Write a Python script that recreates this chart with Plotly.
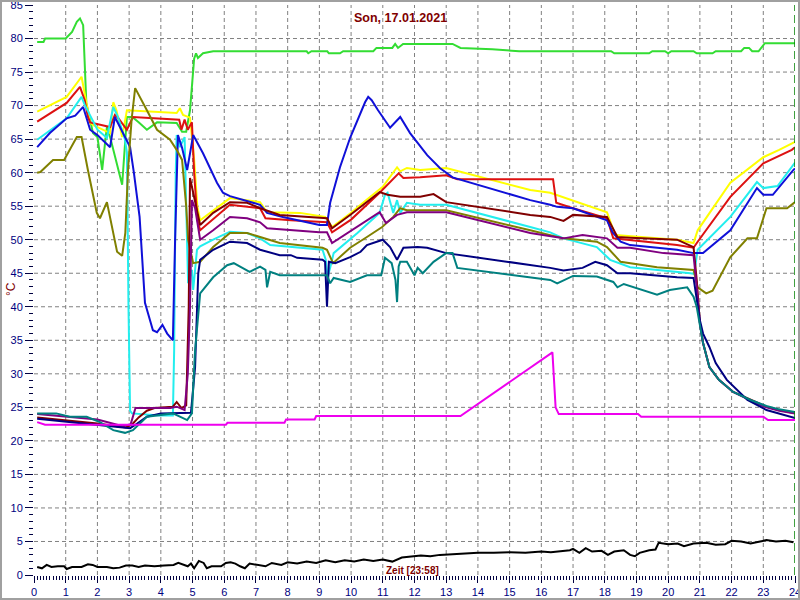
import plotly.graph_objects as go

# ---------------- data (hours, °C) ----------------
green_h = [0.1, 0.3, 0.35, 1.0, 1.2, 1.35, 1.45, 1.55, 1.65, 1.86, 2.0, 2.15, 2.24, 2.3, 2.4, 2.78, 2.93, 3.1, 3.3, 3.56, 3.88, 4.29, 4.5, 4.67, 4.8, 4.92, 5.0, 5.05, 5.11, 5.17, 5.33, 5.65,
           8.6, 8.65, 8.75, 9.25, 9.3, 9.65, 9.75, 10.7, 10.8, 11.3, 11.39, 11.48, 11.64, 13.2, 13.45, 14.45, 15.3, 18.2, 18.3, 19.4, 19.5, 19.9, 20.0, 20.1, 20.8, 20.9,
           21.4, 21.5, 22.3, 22.4, 22.55, 22.65, 22.85, 23.05, 24.0]
green_t = [79.5, 79.5, 80.0, 80.0, 81.0, 82.5, 83.0, 82.0, 70.4, 65.9, 65.3, 60.4, 64.4, 66.8, 65.3, 58.2, 68.3, 68.3, 67.5, 66.4, 67.5, 67.4, 67.4, 66.1, 66.1, 69.3, 74.0, 77.0, 77.8, 77.1, 77.8, 78.1,
           78.1, 77.8, 78.1, 78.1, 77.8, 77.8, 78.1, 78.1, 78.6, 78.6, 79.2, 78.6, 79.2, 79.2, 78.6, 78.4, 78.1, 78.1, 77.8, 77.8, 78.1, 78.1, 77.8, 78.1, 78.1, 77.8,
           77.8, 78.1, 78.1, 78.6, 78.6, 78.1, 78.1, 79.3, 79.3]

yellow_h = [0.1, 1.03, 1.5, 1.6, 1.77, 1.9, 2.4, 2.5, 2.6, 2.78, 2.93, 4.5, 4.6, 4.7, 4.92, 5.05, 5.15, 5.24, 5.65, 6.18, 7.13, 7.35, 8.39, 9.18, 9.4, 10.0, 10.5, 11.0, 11.45, 11.55, 11.76, 12.18, 13.0,
            15.65, 16.28, 18.07, 18.33, 20.28, 20.8, 20.93, 21.96, 23.0, 23.5, 24.0]
yellow_t = [69.1, 71.3, 74.3, 71.8, 67.4, 67.0, 65.9, 70.5, 69.3, 65.3, 69.3, 68.9, 69.6, 68.6, 68.2, 62.0, 55.0, 52.9, 54.4, 56.2, 55.6, 54.1, 54.0, 53.4, 51.9, 54.0, 56.0, 57.9, 60.8, 60.2, 60.7, 60.4, 60.7,
            57.4, 57.0, 54.1, 50.7, 50.0, 49.5, 51.4, 58.5, 62.3, 63.4, 64.6]

red_h = [0.1, 1.03, 1.45, 1.6, 1.7, 1.77, 2.4, 2.55, 2.65, 2.93, 3.12, 4.5, 4.58, 4.65, 4.75, 4.85, 4.98, 5.05, 5.15, 5.24, 5.65, 6.18, 7.13, 7.3, 8.1, 9.24, 9.4, 10.0, 10.9, 11.5, 11.65, 12.18, 13.0, 13.35,
         16.37, 16.47, 17.0, 18.07, 18.27, 20.28, 20.8, 20.93, 21.96, 23.0, 23.9, 24.0]
red_t = [67.6, 70.4, 72.8, 70.8, 68.3, 67.5, 66.8, 68.6, 68.2, 66.4, 68.3, 67.9, 67.9, 66.4, 67.9, 66.4, 67.5, 60.0, 53.0, 51.4, 53.0, 55.2, 54.7, 53.2, 52.9, 52.6, 51.1, 53.0, 57.0, 59.9, 59.2, 59.3, 59.6, 59.0,
         59.0, 55.5, 54.7, 53.2, 50.2, 49.2, 48.8, 49.7, 56.4, 61.4, 63.4, 63.8]

cyan_h = [0.1, 1.03, 1.5, 1.6, 2.0, 2.3, 2.5, 2.65, 2.87, 2.93, 2.98, 3.03, 3.09, 3.97, 4.38, 4.42, 4.47, 4.5, 4.6, 4.75, 4.8, 4.86, 4.98, 5.02, 5.14, 5.24, 5.65, 6.18, 6.72, 7.13, 7.45,
          9.1, 9.2, 9.26, 9.35, 9.45, 10.2, 10.9, 11.07, 11.15, 11.33, 11.45, 11.55, 11.76, 12.18, 13.0, 15.65, 16.28, 16.7, 17.75, 18.17, 18.8, 20.7, 20.82,
          20.93, 21.96, 22.8, 23.0, 23.45, 23.95, 24.0]
cyan_t = [64.9, 68.1, 71.3, 70.1, 66.4, 65.2, 69.8, 68.3, 64.9, 63.0, 40.0, 24.5, 24.1, 23.8, 23.8, 33.5, 60.0, 65.6, 63.8, 65.3, 55.0, 43.5, 45.5, 42.5, 48.5, 49.0, 50.0, 51.2, 51.0, 50.2, 49.2,
          48.5, 47.0, 44.4, 46.0, 48.0, 51.0, 54.0, 56.7, 57.0, 54.0, 55.9, 54.0, 55.5, 55.2, 55.2, 51.9, 51.1, 50.2, 48.9, 47.0, 45.9, 45.0, 44.9,
          48.5, 53.4, 58.6, 57.7, 58.0, 61.1, 61.5]

blue_h = [0.1, 0.5, 1.03, 1.3, 1.55, 1.77, 2.0, 2.4, 2.55, 2.65, 3.03, 3.15, 3.25, 3.33, 3.5, 3.75, 3.88, 4.05, 4.2, 4.38, 4.45, 4.54, 4.67, 4.83, 5.02, 5.33, 5.77, 5.96, 6.18, 7.13, 7.35, 7.85,
          9.0, 9.24, 9.34, 9.65, 9.97, 10.44, 10.54, 10.65, 10.85, 11.23, 11.55, 11.86, 12.4, 12.8, 13.2, 15.65, 16.28, 16.5, 17.0, 18.07, 18.25, 18.5, 18.8,
          20.28, 20.8, 21.1, 21.96, 22.8, 23.0, 23.3, 23.95, 24.0]
blue_t = [63.8, 65.9, 68.1, 68.5, 69.8, 66.4, 65.6, 63.8, 68.3, 67.4, 63.8, 60.0, 55.9, 53.4, 40.6, 36.5, 36.2, 37.3, 36.0, 35.0, 50.0, 65.6, 63.7, 60.4, 65.6, 62.9, 58.5, 57.0, 56.5, 55.2, 54.0, 53.4,
          52.2, 52.2, 55.5, 60.8, 65.2, 70.5, 71.3, 70.8, 69.3, 66.7, 68.3, 65.9, 62.6, 60.7, 59.3, 55.9, 55.2, 54.9, 54.7, 52.9, 51.1, 49.7, 49.2,
          48.5, 48.0, 48.0, 51.4, 57.7, 56.7, 56.7, 60.4, 60.6]

olive_h = [0.1, 0.2, 0.6, 0.95, 1.35, 1.5, 1.7, 1.98, 2.08, 2.3, 2.62, 2.78, 2.88, 2.97, 3.08, 3.19, 3.56, 3.88, 4.29, 4.5, 4.67, 4.8, 4.86, 5.02, 5.24, 5.65, 6.18, 6.72, 7.13, 7.75,
           9.1, 9.24, 9.43, 9.97, 10.5, 10.98, 11.33, 11.55, 11.76, 13.0, 15.65, 16.7, 17.75, 18.07, 18.5, 18.8, 19.65, 20.8, 20.93, 21.2, 21.4, 21.96, 22.5, 22.8,
           23.1, 23.75, 24.0]
olive_t = [60.0, 60.1, 61.9, 61.9, 65.3, 65.3, 60.4, 54.0, 53.2, 55.6, 48.2, 47.6, 51.0, 60.8, 68.0, 72.6, 69.3, 66.4, 64.9, 63.4, 61.9, 55.0, 50.0, 46.5, 46.7, 48.9, 51.0, 51.0, 50.4, 49.5,
           48.8, 48.5, 46.5, 48.8, 50.4, 51.9, 53.4, 54.7, 54.4, 54.4, 51.4, 50.2, 49.7, 48.9, 46.7, 46.5, 45.9, 45.5, 42.9, 42.0, 42.4, 47.4, 50.2, 50.2,
           54.7, 54.7, 55.6]

maroon_h = [0.1, 1.0, 2.0, 2.9, 3.1, 3.3, 3.56, 3.8, 4.38, 4.5, 4.65, 4.8, 4.88, 4.92, 5.02, 5.08, 5.24, 5.65, 6.18, 6.72, 7.13, 7.75, 9.24, 9.4, 10.0, 10.9, 11.15, 11.55, 12.18, 12.6, 13.0,
            15.65, 16.28, 16.7, 17.0, 18.07, 18.4, 18.8, 20.28, 20.8, 20.9, 21.0, 21.1, 21.3, 21.6, 22.05, 22.6, 23.1, 23.5, 24.0]
maroon_t = [23.5, 23.1, 22.6, 22.0, 22.5, 23.5, 24.5, 24.9, 25.1, 25.8, 24.9, 25.3, 40.0, 59.2, 57.0, 55.9, 52.2, 54.0, 55.6, 55.5, 54.7, 53.7, 53.2, 51.7, 53.8, 57.1, 56.7, 56.4, 56.4, 56.8, 55.6,
            53.7, 53.4, 52.8, 53.7, 53.4, 50.4, 50.3, 50.0, 48.9, 44.0, 37.6, 34.6, 31.0, 29.1, 27.3, 26.1, 25.1, 24.6, 24.1]

purple_h = [0.1, 1.0, 2.0, 2.8, 3.05, 3.2, 4.3, 4.5, 4.75, 4.85, 4.92, 4.98, 5.08, 5.24, 5.65, 6.18, 6.72, 7.13, 7.35, 9.0, 9.24, 9.4, 10.9, 11.1, 11.45, 11.76, 13.0,
            15.65, 16.7, 17.3, 18.07, 18.4, 18.8, 19.85, 20.8, 20.9, 21.0, 21.1, 21.3, 21.6, 22.05, 22.6, 23.1, 23.5, 24.0]
purple_t = [24.0, 23.6, 23.2, 22.2, 22.5, 24.9, 24.9, 25.1, 24.6, 30.0, 40.0, 55.9, 54.7, 50.0, 51.4, 53.4, 53.2, 52.6, 51.7, 51.1, 51.1, 49.5, 54.1, 52.5, 53.7, 54.1, 54.1,
            51.0, 50.2, 50.7, 50.2, 48.8, 48.8, 48.0, 47.7, 43.0, 37.6, 34.6, 31.0, 29.1, 27.3, 26.0, 25.0, 24.5, 24.1]

navy_h = [0.1, 1.0, 2.0, 3.03, 3.2, 3.56, 4.0, 4.95, 5.08, 5.18, 5.24, 5.65, 6.18, 6.72, 7.13, 7.75, 8.1, 8.3, 9.1, 9.18, 9.24, 9.3, 9.5, 9.97, 10.3, 10.5, 11.0, 11.23, 11.45, 11.65, 12.1, 12.4, 13.0,
          15.65, 16.28, 16.7, 17.3, 17.7, 18.07, 18.4, 18.8, 20.28, 20.8, 21.0, 21.1, 21.3, 21.5, 21.85, 22.5, 23.1, 24.0]
navy_t = [23.3, 22.9, 22.4, 21.9, 22.4, 23.6, 24.1, 24.2, 31.0, 45.0, 47.0, 48.5, 49.7, 49.5, 48.5, 47.7, 47.7, 47.3, 47.0, 46.7, 40.0, 46.7, 46.5, 47.4, 48.2, 49.2, 50.0, 48.9, 47.0, 48.8, 48.9, 48.8, 48.0,
          46.2, 45.8, 45.4, 45.8, 46.7, 46.2, 45.0, 45.0, 44.4, 44.3, 38.0, 36.0, 34.0, 31.6, 29.1, 26.1, 24.6, 23.4]

teal_h = [0.1, 0.7, 1.13, 1.66, 2.08, 2.5, 2.87, 3.12, 3.56, 4.38, 4.83, 4.98, 5.08, 5.24, 5.65, 6.09, 6.3, 6.8, 7.13, 7.3, 7.35, 7.45, 7.75, 9.24, 9.34, 9.45, 9.97, 10.5, 10.95, 11.07, 11.28, 11.4,
          11.45, 11.5, 11.55, 11.76, 12.0, 12.1, 12.26, 12.6, 13.0, 13.2, 13.35, 16.28, 16.5, 17.0, 17.75, 18.27, 18.4, 18.6, 19.65, 20.05, 20.6, 20.8, 20.9,
          21.0, 21.1, 21.3, 21.6, 22.05, 22.6, 23.1, 23.5, 24.0]
teal_t = [24.1, 24.1, 23.6, 23.6, 22.8, 21.6, 21.2, 21.6, 23.6, 24.1, 23.1, 24.1, 33.5, 42.0, 44.4, 46.2, 46.5, 45.2, 46.0, 45.5, 42.9, 45.2, 44.7, 44.7, 43.5, 44.3, 43.7, 44.7, 44.7, 47.3, 46.5, 44.0,
          40.7, 46.0, 46.7, 46.7, 44.7, 45.8, 45.0, 46.7, 48.0, 48.0, 45.8, 44.0, 43.5, 44.6, 44.5, 43.7, 42.9, 43.4, 41.8, 42.5, 42.9, 41.5, 40.0,
          37.0, 34.6, 31.0, 29.1, 27.3, 26.1, 25.2, 24.7, 24.3]

magenta_h = [0.1, 0.35, 6.05, 6.1, 7.9, 7.95, 8.85, 8.9, 13.45, 16.35, 16.45, 16.55, 19.05, 19.15, 23.0, 23.15, 24.0]
magenta_t = [22.8, 22.4, 22.4, 22.7, 22.7, 23.2, 23.2, 23.7, 23.7, 33.2, 25.0, 24.0, 24.0, 23.6, 23.6, 23.1, 23.1]

black_h = [0.1, 0.25, 0.4, 0.55, 0.75, 0.95, 1.03, 1.2, 1.5, 1.7, 1.85, 2.0, 2.3, 2.5, 2.7, 2.9, 3.1, 3.3, 3.5, 3.8, 4.1, 4.4, 4.55, 4.7, 4.85, 4.95, 5.05, 5.2, 5.35, 5.45, 5.6, 5.9,
           6.05, 6.2, 6.35, 6.5, 6.65, 6.8, 7.0, 7.3, 7.5, 7.8, 8.0, 8.3, 8.6, 8.9, 9.2, 9.5, 9.8, 10.1, 10.4, 10.7, 11.0, 11.3, 11.6, 11.9, 12.2, 12.5, 12.8,
           13.2, 13.6, 14.0, 14.5, 15.0, 15.5, 16.0, 16.3, 16.6, 16.9, 17.0, 17.2, 17.4, 17.6, 17.9, 18.1, 18.3, 18.6, 18.8, 18.95, 19.1, 19.4, 19.6, 19.7,
           20.0, 20.3, 20.5, 20.8, 21.2, 21.5, 21.8, 22.0, 22.3, 22.6, 22.9, 23.1, 23.4, 23.7, 23.95]
black_t = [1.2, 1.0, 1.5, 1.2, 1.3, 1.3, 0.9, 1.2, 1.2, 1.6, 1.5, 1.2, 1.2, 1.0, 1.1, 1.4, 1.4, 1.2, 1.4, 1.3, 1.4, 1.5, 1.8, 1.5, 1.3, 1.7, 1.0, 2.1, 1.8, 1.0, 1.3, 1.3,
           1.8, 1.9, 1.7, 1.3, 1.0, 1.7, 1.5, 1.3, 1.8, 1.5, 1.9, 1.7, 2.0, 1.8, 2.2, 1.9, 2.2, 2.0, 2.3, 2.1, 2.3, 2.0, 2.6, 2.7, 2.9, 2.8, 3.0,
           3.1, 3.2, 3.3, 3.3, 3.4, 3.3, 3.5, 3.4, 3.6, 3.7, 3.9, 3.3, 4.0, 3.5, 3.6, 3.0, 3.5, 3.7, 3.0, 2.8, 3.3, 3.7, 3.8, 4.8,
           4.6, 4.7, 4.3, 4.7, 4.8, 4.5, 4.6, 5.1, 5.0, 4.7, 5.0, 5.2, 5.0, 5.1, 4.9]

series = [
    (green_h, green_t, "#33dd33"),
    (yellow_h, yellow_t, "#ffff00"),
    (red_h, red_t, "#dd1111"),
    (cyan_h, cyan_t, "#22eeee"),
    (blue_h, blue_t, "#1010d8"),
    (olive_h, olive_t, "#808000"),
    (maroon_h, maroon_t, "#800000"),
    (purple_h, purple_t, "#800080"),
    (navy_h, navy_t, "#000080"),
    (teal_h, teal_t, "#008080"),
    (magenta_h, magenta_t, "#ee00ee"),
    (black_h, black_t, "#000000"),
]

x_ticks = list(range(0, 25))
y_ticks = list(range(0, 90, 5))

title_text = "Son, 17.01.2021"
x_label = "Zeit [23:58]"
y_label = "°C"

# ---------------- figure ----------------
fig = go.Figure()
for h, t, c in series:
    fig.add_trace(go.Scatter(x=h, y=t, mode="lines", line=dict(color=c, width=2), hoverinfo="skip"))

W, H = 800, 600
ML, MR, MT, MB = 34, 5, 5, 25
PW, PH = W - ML - MR, H - MT - MB

tickfont = dict(family="Liberation Sans Narrow, Arial Narrow, Liberation Sans, Arial", size=11, color="#000080")
fig.update_layout(
    width=W, height=H,
    margin=dict(l=ML, r=MR, t=MT, b=MB, pad=0, autoexpand=False),
    plot_bgcolor="white", paper_bgcolor="white",
    showlegend=False,
    xaxis=dict(range=[0, 24], tickvals=x_ticks, ticks="outside", ticklen=7, tickcolor="#000040", tickwidth=1,
               tickfont=tickfont, showgrid=False, zeroline=False, showline=False, automargin=False,
               ticklabeloverflow="allow",
               minor=dict(dtick=0.1, tick0=0, ticks="outside", ticklen=4, tickcolor="#000040", showgrid=False)),
    yaxis=dict(range=[0, 85], tickvals=y_ticks, ticks="outside", ticklen=8, tickcolor="#000040", tickwidth=1,
               tickfont=tickfont, showgrid=False, zeroline=False, showline=False, automargin=False,
               ticklabeloverflow="allow",
               minor=dict(dtick=1, tick0=0, ticks="outside", ticklen=4, tickcolor="#000040", showgrid=False)),
)

shapes = []
for xv in x_ticks[1:-1]:
    shapes.append(dict(type="line", xref="x", yref="y", x0=xv, x1=xv, y0=0, y1=85, layer="below",
                       line=dict(color="#808080", width=1, dash="4px,3px")))
for yv in y_ticks[1:-1]:
    shapes.append(dict(type="line", xref="x", yref="y", x0=0, x1=24, y0=yv, y1=yv, layer="below",
                       line=dict(color="#808080", width=1, dash="4px,3px")))
# current-time marker
shapes.append(dict(type="line", xref="x", yref="y", x0=24, x1=24, y0=0, y1=85,
                   line=dict(color="#008000", width=1.5, dash="8px,4px")))
# window border
shapes.append(dict(type="rect", xref="paper", yref="paper",
                   x0=(-ML + 1) / PW, x1=1 + (MR - 1) / PW, y0=(-MB + 1) / PH, y1=1 + (MT - 1) / PH,
                   line=dict(color="#a0a0a0", width=2), fillcolor="rgba(0,0,0,0)"))
fig.update_layout(shapes=shapes)

fig.add_annotation(text="<b>" + title_text + "</b>", xref="paper", yref="paper",
                   x=(400 - ML) / PW, y=(H - MB - 18) / PH, showarrow=False,
                   font=dict(family="Liberation Sans, Arial", size=12.5, color="#800000"),
                   xanchor="center", yanchor="middle")
fig.add_annotation(text=y_label, xref="paper", yref="paper",
                   x=(11 - ML) / PW, y=(H - MB - 289) / PH, showarrow=False, textangle=-90,
                   font=dict(family="Liberation Sans, Arial", size=12, color="#800000"),
                   xanchor="center", yanchor="middle")
fig.add_annotation(text="<b>" + x_label + "</b>", xref="paper", yref="paper",
                   x=(412 - ML) / PW, y=(H - MB - 570) / PH, showarrow=False,
                   font=dict(family="Liberation Sans, Arial", size=10, color="#800000"),
                   xanchor="center", yanchor="middle")

fig.write_html("out.html", config={"displayModeBar": False},
               post_script="document.body.style.margin='0';document.body.style.overflow='hidden';")
